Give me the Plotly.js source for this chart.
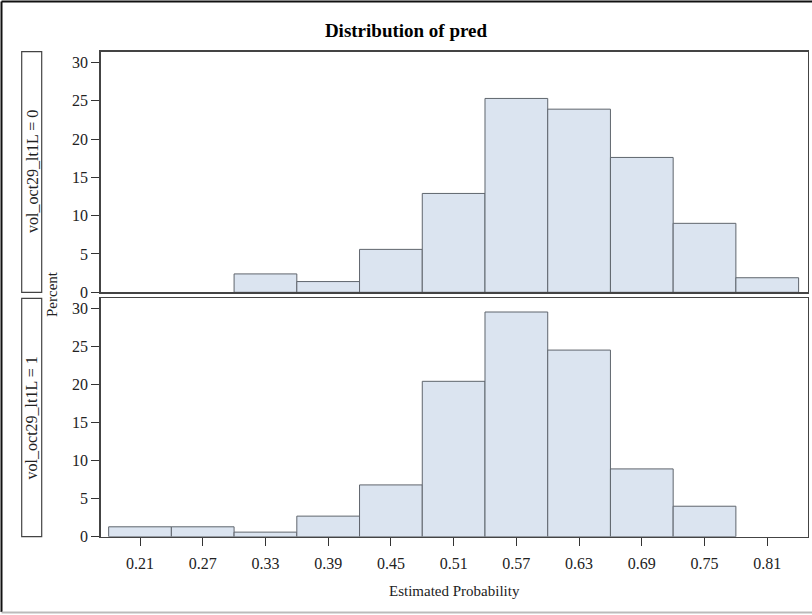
<!DOCTYPE html>
<html>
<head>
<meta charset="utf-8">
<script src="https://cdn.plot.ly/plotly-3.0.1.min.js"></script>
<style>html,body{margin:0;padding:0;background:#fff;}#chart{width:812px;height:615px;}</style>
</head>
<body>
<div id="chart"></div>
<script>
// Bin midpoints (Estimated Probability)
const binMids = [0.21, 0.27, 0.33, 0.39, 0.45, 0.51, 0.57, 0.63, 0.69, 0.75, 0.81];
// Percent for vol_oct29_lt1L = 0
const pctGroup0 = [0, 0, 2.4, 1.4, 5.6, 12.9, 25.3, 23.9, 17.6, 9.0, 1.9];
// Percent for vol_oct29_lt1L = 1
const pctGroup1 = [1.3, 1.3, 0.6, 2.7, 6.8, 20.4, 29.5, 24.5, 8.9, 4.0, 0];
const tickVals = [0.21, 0.27, 0.33, 0.39, 0.45, 0.51, 0.57, 0.63, 0.69, 0.75, 0.81];
const tickText = ["0.21", "0.27", "0.33", "0.39", "0.45", "0.51", "0.57", "0.63", "0.69", "0.75", "0.81"];
const yTicks = [0, 5, 10, 15, 20, 25, 30];
const stripLabels = ["vol_oct29_lt1L = 0", "vol_oct29_lt1L = 1"];
const titleText = "Distribution of pred";
const xTitle = "Estimated Probability";
const yTitle = "Percent";

const W = 812, H = 615;
const px = x => x / W;
const py = y => 1 - y / H;

const serif = "Liberation Serif, Times New Roman, serif";
const fill = "#dbe4f0";
const edge = "#5f656d";
const frame = "#444";

// empty bins are not drawn (no outline at zero)
const hideZero = arr => arr.map(v => (v === 0 ? null : v));

const traces = [
  {type: "bar", x: binMids, y: hideZero(pctGroup0), width: 0.06, xaxis: "x2", yaxis: "y2",
   marker: {color: fill, line: {color: edge, width: 1}}, hoverinfo: "x+y"},
  {type: "bar", x: binMids, y: hideZero(pctGroup1), width: 0.06, xaxis: "x", yaxis: "y",
   marker: {color: fill, line: {color: edge, width: 1}}, hoverinfo: "x+y"}
];

const xRange = [0.1724, 0.8485];
const axFont = {family: serif, size: 16, color: "#222"};

const layout = {
  width: W, height: H,
  margin: {l: 0, r: 0, t: 0, b: 0},
  paper_bgcolor: "#fff", plot_bgcolor: "#fff",
  showlegend: false, bargap: 0,
  title: {text: "<b>" + titleText + "</b>", x: 0.5, xanchor: "center", y: py(30), yanchor: "middle",
          font: {family: serif, size: 19, color: "#000"}},
  xaxis: {domain: [px(100.7), px(807.5)], anchor: "y", range: xRange,
          tickvals: tickVals, ticktext: tickText, ticks: "outside", ticklen: 8, tickwidth: 1, tickcolor: "#333",
          ticklabelstandoff: 4,
          showline: true, mirror: true, linecolor: frame, linewidth: 1.5, showgrid: false, zeroline: false,
          tickfont: axFont},
  yaxis: {domain: [py(536.7), py(298.3)], anchor: "x", range: [0, 31.3],
          tickvals: yTicks, ticks: "outside", ticklen: 8, tickwidth: 1, tickcolor: "#333",
          showline: true, mirror: true, linecolor: frame, linewidth: 1.5, showgrid: false, zeroline: false,
          tickfont: axFont},
  xaxis2: {domain: [px(100.7), px(807.5)], anchor: "y2", matches: "x", range: xRange,
           showticklabels: false, ticks: "", showline: true, mirror: true, linecolor: frame, linewidth: 1.5,
           showgrid: false, zeroline: false},
  yaxis2: {domain: [py(292.3), py(51.7)], anchor: "x2", range: [0, 31.4],
           tickvals: yTicks, ticks: "outside", ticklen: 8, tickwidth: 1, tickcolor: "#333",
           showline: true, mirror: true, linecolor: frame, linewidth: 1.5, showgrid: false, zeroline: false,
           tickfont: axFont},
  shapes: [
    // strip boxes
    {type: "rect", xref: "paper", yref: "paper", x0: px(21.7), x1: px(41.7), y0: py(292.3), y1: py(51.7),
     line: {color: frame, width: 1.2}, fillcolor: "rgba(0,0,0,0)"},
    {type: "rect", xref: "paper", yref: "paper", x0: px(21.7), x1: px(41.7), y0: py(536.7), y1: py(298.3),
     line: {color: frame, width: 1.2}, fillcolor: "rgba(0,0,0,0)"},
    // outer border
    {type: "line", xref: "paper", yref: "paper", x0: px(1.5), x1: px(1.5), y0: py(612), y1: py(1.5),
     line: {color: "#111", width: 2}},
    {type: "line", xref: "paper", yref: "paper", x0: px(1.5), x1: 1, y0: py(1.5), y1: py(1.5),
     line: {color: "#111", width: 2}},
    {type: "line", xref: "paper", yref: "paper", x0: px(1.5), x1: 1, y0: py(612.5), y1: py(612.5),
     line: {color: "#bbb", width: 2}}
  ],
  annotations: [
    {xref: "paper", yref: "paper", x: px(31.9), y: py(171), text: stripLabels[0], textangle: -90,
     showarrow: false, xanchor: "center", yanchor: "middle", font: {family: serif, size: 16, color: "#222"}},
    {xref: "paper", yref: "paper", x: px(31.9), y: py(417.5), text: stripLabels[1], textangle: -90,
     showarrow: false, xanchor: "center", yanchor: "middle", font: {family: serif, size: 16, color: "#222"}},
    {xref: "paper", yref: "paper", x: px(52), y: py(294), text: yTitle, textangle: -90,
     showarrow: false, xanchor: "center", yanchor: "middle", font: {family: serif, size: 15, color: "#222"}},
    {xref: "paper", yref: "paper", x: px(454), y: py(591), text: xTitle,
     showarrow: false, xanchor: "center", yanchor: "middle", font: {family: serif, size: 15, color: "#222"}}
  ]
};

Plotly.newPlot("chart", traces, layout, {displayModeBar: false, staticPlot: true});
</script>
</body>
</html>
